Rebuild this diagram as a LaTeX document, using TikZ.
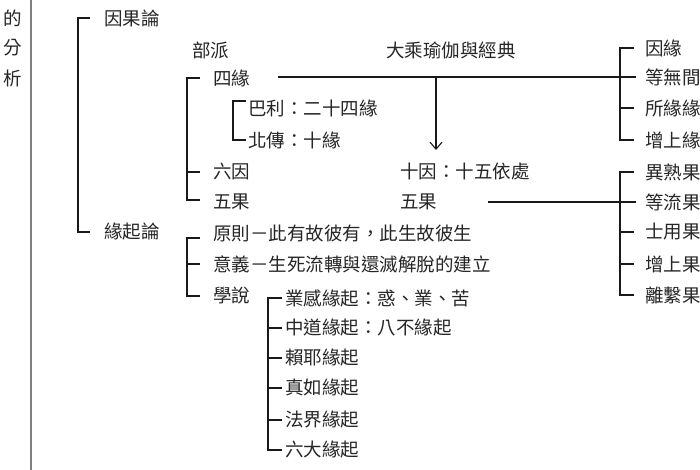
\documentclass[tikz,border=0pt]{standalone}
\usepackage{fontspec}
\usetikzlibrary{arrows.meta}
\newfontfamily\cjk{Noto Sans CJK TC}
\begin{document}
\begin{tikzpicture}[x=1pt,y=-1pt,
  t/.style={anchor=west,inner sep=0pt,font=\cjk\fontsize{18.5}{18.5}\selectfont,text=black!85},
  br/.style={line width=1.4pt,black!90},
  ln/.style={line width=1.1pt,black!90}]
\useasboundingbox (0,0) rectangle (700,470);
\fill[white] (0,0) rectangle (700,470);
\node[t] (a1) at (3,18) {的};
\node[t] (a2) at (3,48) {分};
\node[t] (a3) at (3,78) {析};
\draw[line width=2pt,black!50] (31,0) -- (31,470);
% level 1
\node[t] (yg) at (104,18) {因果論};
\node[t] (yq) at (104,232) {緣起論};
\draw[br] (90,18) -- (78,18) -- (78,232) -- (90,232);
\node[t] (bp) at (192,50) {部派};
\node[t] (dc) at (386,50) {大乘瑜伽與經典};
% 部派
\node[t] (sy) at (213,78) {四緣};
\node[t] (ly) at (213,172) {六因};
\node[t] (wg) at (213,202) {五果};
\draw[br] (200,78) -- (187,78) -- (187,200) -- (200,200);
\draw[br] (187,172) -- (200,172);
\node[t] (bl) at (248,108) {巴利：二十四緣};
\node[t] (bc) at (248,140) {北傳：十緣};
\draw[br] (246,101) -- (233,101) -- (233,140) -- (246,140);
\coordinate (sl) at (278,77);
\coordinate (sr) at (636,77);
\draw[ln] (sl) -- (sr);
\node[t] (sh) at (400,172) {十因：十五依處};
\node[t] (wg2) at (400,202) {五果};
\coordinate (ar) at (436,77);
\coordinate (ae) at (436,150);
\draw[ln,-{Straight Barb[length=7pt,width=12pt]}] (ar) -- (ae);
\coordinate (wl) at (488,202);
\coordinate (wr) at (636,202);
\draw[ln] (wl) -- (wr);
% right column 1
\node[t] (r1) at (645,48) {因緣};
\node[t] (r2) at (645,77) {等無間緣};
\node[t] (r3) at (645,108) {所緣緣};
\node[t] (r4) at (645,140) {增上緣};
\draw[br] (634,48) -- (620,48) -- (620,140) -- (634,140);
\draw[br] (620,108) -- (634,108);
% right column 2
\node[t] (s1) at (645,172) {異熟果};
\node[t] (s2) at (645,202) {等流果};
\node[t] (s3) at (645,232) {士用果};
\node[t] (s4) at (645,264) {增上果};
\node[t] (s5) at (645,295) {離繫果};
\draw[br] (634,172) -- (620,172) -- (620,295) -- (634,295);
\foreach \yy in {202,232,264} \draw[br] (620,\yy) -- (634,\yy);
% 緣起論
\node[t] (p1) at (213,234) {原則－此有故彼有，此生故彼生};
\node[t] (p2) at (213,264) {意義－生死流轉與還滅解脫的建立};
\node[t] (p3) at (213,296) {學說};
\draw[br] (200,238) -- (187,238) -- (187,296) -- (200,296);
\draw[br] (187,264) -- (200,264);
\node[t] (q1) at (285,298) {業感緣起：惑、業、苦};
\node[t] (q2) at (285,328) {中道緣起：八不緣起};
\node[t] (q3) at (285,358) {賴耶緣起};
\node[t] (q4) at (285,388) {真如緣起};
\node[t] (q5) at (285,420) {法界緣起};
\node[t] (q6) at (285,450) {六大緣起};
\draw[br] (282,298) -- (268,298) -- (268,450) -- (282,450);
\foreach \yy in {328,358,388,420} \draw[br] (268,\yy) -- (282,\yy);
\end{tikzpicture}
\end{document}
